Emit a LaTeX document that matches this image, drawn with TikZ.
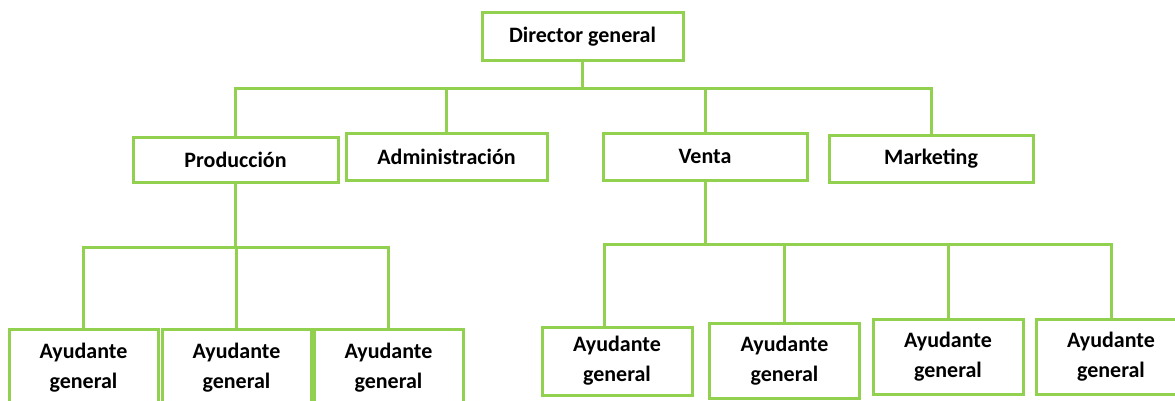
\documentclass[tikz,border=0pt]{standalone}
\usepackage{fontspec}
\setmainfont{Carlito}
\usetikzlibrary{calc}
\definecolor{verde}{HTML}{92D050}

\begin{document}
\begin{tikzpicture}[x=1pt, y=1pt,
  caja/.style={draw=verde, line width=3pt, fill=white, inner sep=0pt,
    minimum height=47pt, align=center,
    font=\bfseries\fontsize{22}{30}\selectfont},
  ayudante/.style={caja, minimum width=150pt, minimum height=75pt},
  linea/.style={verde, line width=3pt}]

\clip (0,0) rectangle (1175,400);
\fill[white] (0,0) rectangle (1175,400);

% cabeza
\node[caja, minimum width=201pt] (dir) at (582.5,363.5) {Director general};

% departamentos
\node[caja, minimum width=205pt, minimum height=45pt] (prod) at (235.5,240.5) {Producción};
\node[caja, minimum width=201pt] (admin) at (446.5,243.5) {Administración};
\node[caja, minimum width=204pt] (venta) at (705,243.5) {Venta};
\node[caja, minimum width=204pt] (mark) at (931,241.5) {Marketing};

% ayudantes
\node[ayudante, minimum width=149pt, minimum height=78pt] (a1) at (83.5,32) {Ayudante\\general};
\node[ayudante, minimum width=149pt, minimum height=78pt] (a2) at (236.5,32) {Ayudante\\general};
\node[ayudante, minimum width=149pt, minimum height=78pt] (a3) at (388.5,32) {Ayudante\\general};
\node[ayudante, minimum height=68pt] (a4) at (617,39) {Ayudante\\general};
\node[ayudante] (a5) at (784.5,39.5) {Ayudante\\general};
\node[ayudante] (a6) at (948,43.5) {Ayudante\\general};
\node[ayudante] (a7) at (1111,43.5) {Ayudante\\general};

\coordinate (a4top) at ($(a4.north)+(-13,0)$);

% lineas
\draw[linea] (dir.south) -- (dir.south |- 0,312);
\draw[linea] (prod.north) |- (mark.north |- 0,312) -- (mark.north);
\draw[linea] (admin.north) -- (admin.north |- 0,312);
\draw[linea] (venta.north) -- (venta.north |- 0,312);

\draw[linea] (prod.south) -- (prod.south |- 0,153);
\draw[linea] (a1.north) |- (a3.north |- 0,153) -- (a3.north);
\draw[linea] (a2.north) -- (a2.north |- 0,153);

\draw[linea] (venta.south) -- (venta.south |- 0,156);
\draw[linea] (a4top) |- (a7.north |- 0,156) -- (a7.north);
\draw[linea] (a5.north) -- (a5.north |- 0,156);
\draw[linea] (a6.north) -- (a6.north |- 0,156);

\end{tikzpicture}
\end{document}
